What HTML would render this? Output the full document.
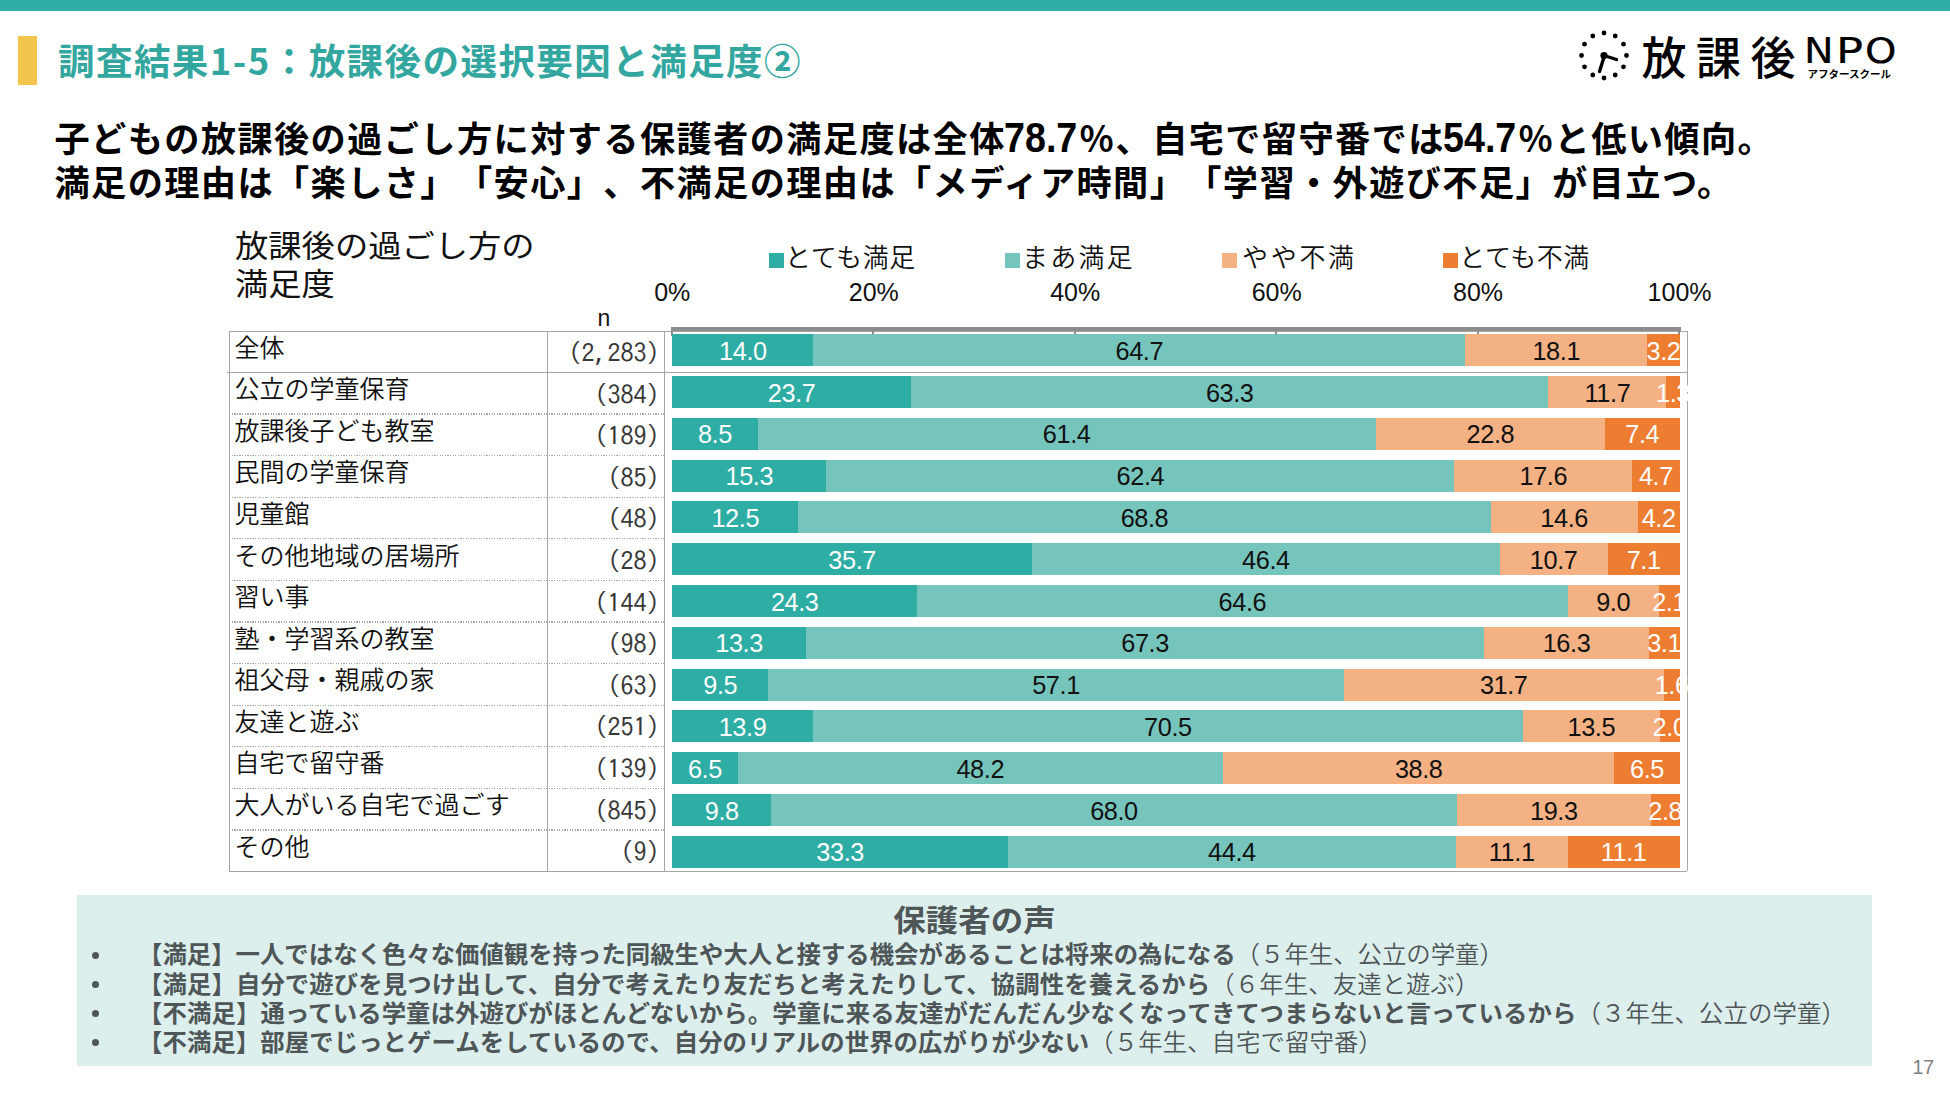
<!DOCTYPE html><html lang="ja"><head><meta charset="utf-8"><title>調査結果1-5</title><style>
*{margin:0;padding:0;box-sizing:border-box;text-spacing-trim:space-all}
html,body{width:1950px;height:1097px;overflow:hidden;background:#fff}
body{position:relative;font-family:"Liberation Sans","Noto Sans CJK JP",sans-serif;color:#000}
.a{position:absolute;white-space:nowrap}
.jp{font-family:"Noto Sans CJK JP",sans-serif}
.b{font-weight:700}
.lbl{font-family:"Noto Sans CJK JP",sans-serif;font-weight:350;font-size:25px;line-height:25px;color:#111}
.n{font-family:"IPAGothic","Noto Sans CJK JP",monospace;font-size:26px;line-height:25px;color:#383838;text-align:right}
.dl{font-family:"Liberation Sans",sans-serif;font-size:25.3px;letter-spacing:-0.4px;line-height:31px;text-align:center}
.seg{position:absolute;height:32.0px}
.voice{font-family:"Noto Sans CJK JP",sans-serif;font-size:24.4px;line-height:29.1px;color:#4e5658}
.voice b{font-weight:700}
.voice span{font-weight:350}
</style></head><body>
<div class="a" style="left:0;top:0;width:1950px;height:10.5px;background:#30ada5"></div>
<div class="a" style="left:18px;top:36px;width:19px;height:49px;background:#f2c54c"></div>
<div class="a jp b" style="left:58px;top:38.4px;font-size:36.5px;line-height:44px;letter-spacing:1.45px;color:#33a79f">調査結果1-5：放課後の選択要因と満足度②</div>
<div class="a jp b" style="left:54.5px;top:115px;font-size:35.2px;line-height:44px;letter-spacing:1.4px;color:#000">子どもの放課後の過ごし方に対する保護者の満足度は全体</div>
<div class="a" style="left:1004.0px;top:115.0px;font-family:Liberation Sans,sans-serif;font-weight:700;font-size:43px;line-height:44px;color:#000;transform:scaleX(0.876);transform-origin:0 0">78.7</div>
<div class="a jp b" style="left:1079.0px;top:115px;font-size:35.2px;line-height:44px;letter-spacing:1.4px;color:#000">％、自宅で留守番では</div>
<div class="a" style="left:1443.2px;top:115.0px;font-family:Liberation Sans,sans-serif;font-weight:700;font-size:43px;line-height:44px;color:#000;transform:scaleX(0.876);transform-origin:0 0">54.7</div>
<div class="a jp b" style="left:1518.0px;top:115px;font-size:35.2px;line-height:44px;letter-spacing:1.4px;color:#000">％と低い傾向。</div>
<div class="a jp b" style="left:54.5px;top:159px;font-size:35.2px;line-height:44px;letter-spacing:1.4px;color:#000">満足の理由は「楽しさ」「安心」、不満足の理由は「メディア時間」「学習・外遊び不足」が目立つ。</div>
<svg class="a" style="left:1570px;top:25px" width="70" height="65" viewBox="0 0 70 65"><g fill="#000"><circle cx="34.0" cy="8.0" r="2.4"/><circle cx="45.2" cy="11.0" r="2.4"/><circle cx="53.5" cy="19.2" r="2.4"/><circle cx="56.5" cy="30.5" r="2.4"/><circle cx="53.5" cy="41.8" r="2.4"/><circle cx="45.2" cy="50.0" r="2.4"/><circle cx="34.0" cy="53.0" r="2.4"/><circle cx="22.8" cy="50.0" r="2.4"/><circle cx="14.5" cy="41.8" r="2.4"/><circle cx="11.5" cy="30.5" r="2.4"/><circle cx="14.5" cy="19.2" r="2.4"/><circle cx="22.8" cy="11.0" r="2.4"/><circle cx="34.0" cy="30.5" r="3.6"/></g><path d="M34.0 30.5L46.5 34.5M34.5 30.5L29.5 46.5" stroke="#000" stroke-width="3.4" stroke-linecap="round" fill="none"/></svg>
<div class="a jp" style="left:1641.5px;top:28px;font-size:45px;line-height:56px;letter-spacing:9.5px;font-weight:500;color:#000">放課後</div>
<div class="a" style="left:1804.0px;top:30.5px;font-family:DejaVu Sans,sans-serif;font-size:36px;line-height:40px;color:#000;-webkit-text-stroke:0.2px #000;transform:scaleX(1.10);transform-origin:0 0">N</div>
<div class="a" style="left:1835.5px;top:30.5px;font-family:DejaVu Sans,sans-serif;font-size:36px;line-height:40px;color:#000;-webkit-text-stroke:0.2px #000;transform:scaleX(1.25);transform-origin:0 0">P</div>
<div class="a" style="left:1864.6px;top:30.5px;font-family:DejaVu Sans,sans-serif;font-size:36px;line-height:40px;color:#000;-webkit-text-stroke:0.2px #000;transform:scaleX(1.11);transform-origin:0 0">O</div>
<div class="a jp b" style="left:1807.5px;top:66.5px;font-size:10.5px;line-height:14px;color:#000">アフタースクール</div>
<div class="a jp" style="left:235px;top:223.5px;font-size:33.3px;line-height:39.5px;color:#111;transform:scaleY(0.93);transform-origin:0 21px">放課後の過ごし方の</div>
<div class="a jp" style="left:235px;top:262px;font-size:33.3px;line-height:39.5px;color:#111;transform:scaleY(0.93);transform-origin:0 21px">満足度</div>
<div class="a" style="left:768.5px;top:253px;width:15px;height:14.5px;background:#2dada4"></div>
<div class="a jp" style="left:785px;top:240px;font-size:26px;line-height:32px;font-weight:350;color:#111;letter-spacing:0.6px">とても満足</div>
<div class="a" style="left:1004.5px;top:253px;width:15px;height:14.5px;background:#76c5bd"></div>
<div class="a jp" style="left:1022px;top:240px;font-size:26px;line-height:32px;font-weight:350;color:#111;letter-spacing:2.2px">まあ満足</div>
<div class="a" style="left:1221.5px;top:253px;width:15px;height:14.5px;background:#f3b184"></div>
<div class="a jp" style="left:1242px;top:240px;font-size:26px;line-height:32px;font-weight:350;color:#111;letter-spacing:2.7px">やや不満</div>
<div class="a" style="left:1442.5px;top:253px;width:15px;height:14.5px;background:#ed7d31"></div>
<div class="a jp" style="left:1459.3px;top:240px;font-size:26px;line-height:32px;font-weight:350;color:#111;letter-spacing:0.5px">とても不満</div>
<div class="a" style="left:672.3px;top:278px;width:100px;margin-left:-50px;text-align:center;font-size:25px;line-height:28px;color:#111">0%</div>
<div class="a" style="left:873.8px;top:278px;width:100px;margin-left:-50px;text-align:center;font-size:25px;line-height:28px;color:#111">20%</div>
<div class="a" style="left:1075.2px;top:278px;width:100px;margin-left:-50px;text-align:center;font-size:25px;line-height:28px;color:#111">40%</div>
<div class="a" style="left:1276.7px;top:278px;width:100px;margin-left:-50px;text-align:center;font-size:25px;line-height:28px;color:#111">60%</div>
<div class="a" style="left:1478.1px;top:278px;width:100px;margin-left:-50px;text-align:center;font-size:25px;line-height:28px;color:#111">80%</div>
<div class="a" style="left:1679.6px;top:278px;width:100px;margin-left:-50px;text-align:center;font-size:25px;line-height:28px;color:#111">100%</div>
<div class="a" style="left:597.5px;top:305.5px;font-size:23px;line-height:24px;color:#111">n</div>
<div class="a" style="left:228.9px;top:330.5px;width:1458.1px;height:1.3px;background:#a6a6a6"></div>
<div class="a" style="left:228.9px;top:870.7px;width:1458.1px;height:1.3px;background:#a6a6a6"></div>
<div class="a" style="left:228.9px;top:330.5px;width:1.3px;height:540.7px;background:#a6a6a6"></div>
<div class="a" style="left:546.9px;top:330.5px;width:1.3px;height:540.7px;background:#a6a6a6"></div>
<div class="a" style="left:663.8px;top:330.5px;width:1.3px;height:540.7px;background:#a6a6a6"></div>
<div class="a" style="left:1687.0px;top:330.5px;width:1.3px;height:540.7px;background:#a6a6a6"></div>
<div class="a" style="left:226.9px;top:372.1px;width:1460.1px;height:1.3px;background:#a6a6a6"></div>
<div class="a" style="left:228.9px;top:413.4px;width:434.9px;height:1.3px;background:repeating-linear-gradient(90deg,#a8a8a8 0 1.3px,transparent 1.3px 2.6px)"></div>
<div class="a" style="left:228.9px;top:455.0px;width:434.9px;height:1.3px;background:repeating-linear-gradient(90deg,#a8a8a8 0 1.3px,transparent 1.3px 2.6px)"></div>
<div class="a" style="left:228.9px;top:496.6px;width:434.9px;height:1.3px;background:repeating-linear-gradient(90deg,#a8a8a8 0 1.3px,transparent 1.3px 2.6px)"></div>
<div class="a" style="left:228.9px;top:538.2px;width:434.9px;height:1.3px;background:repeating-linear-gradient(90deg,#a8a8a8 0 1.3px,transparent 1.3px 2.6px)"></div>
<div class="a" style="left:228.9px;top:579.8px;width:434.9px;height:1.3px;background:repeating-linear-gradient(90deg,#a8a8a8 0 1.3px,transparent 1.3px 2.6px)"></div>
<div class="a" style="left:228.9px;top:621.3px;width:434.9px;height:1.3px;background:repeating-linear-gradient(90deg,#a8a8a8 0 1.3px,transparent 1.3px 2.6px)"></div>
<div class="a" style="left:228.9px;top:662.9px;width:434.9px;height:1.3px;background:repeating-linear-gradient(90deg,#a8a8a8 0 1.3px,transparent 1.3px 2.6px)"></div>
<div class="a" style="left:228.9px;top:704.5px;width:434.9px;height:1.3px;background:repeating-linear-gradient(90deg,#a8a8a8 0 1.3px,transparent 1.3px 2.6px)"></div>
<div class="a" style="left:228.9px;top:746.1px;width:434.9px;height:1.3px;background:repeating-linear-gradient(90deg,#a8a8a8 0 1.3px,transparent 1.3px 2.6px)"></div>
<div class="a" style="left:228.9px;top:787.7px;width:434.9px;height:1.3px;background:repeating-linear-gradient(90deg,#a8a8a8 0 1.3px,transparent 1.3px 2.6px)"></div>
<div class="a" style="left:228.9px;top:829.3px;width:434.9px;height:1.3px;background:repeating-linear-gradient(90deg,#a8a8a8 0 1.3px,transparent 1.3px 2.6px)"></div>
<div class="a lbl" style="left:234.5px;top:333.5px">全体</div>
<div class="a n" style="left:561.5px;width:98px;top:340.0px">(2,283)</div>
<div class="a lbl" style="left:234.5px;top:375.1px">公立の学童保育</div>
<div class="a n" style="left:561.5px;width:98px;top:381.6px">(384)</div>
<div class="a lbl" style="left:234.5px;top:416.7px">放課後子ども教室</div>
<div class="a n" style="left:561.5px;width:98px;top:423.2px">(189)</div>
<div class="a lbl" style="left:234.5px;top:458.3px">民間の学童保育</div>
<div class="a n" style="left:561.5px;width:98px;top:464.8px">(85)</div>
<div class="a lbl" style="left:234.5px;top:499.9px">児童館</div>
<div class="a n" style="left:561.5px;width:98px;top:506.4px">(48)</div>
<div class="a lbl" style="left:234.5px;top:541.5px">その他地域の居場所</div>
<div class="a n" style="left:561.5px;width:98px;top:548.0px">(28)</div>
<div class="a lbl" style="left:234.5px;top:583.1px">習い事</div>
<div class="a n" style="left:561.5px;width:98px;top:589.6px">(144)</div>
<div class="a lbl" style="left:234.5px;top:624.6px">塾・学習系の教室</div>
<div class="a n" style="left:561.5px;width:98px;top:631.1px">(98)</div>
<div class="a lbl" style="left:234.5px;top:666.2px">祖父母・親戚の家</div>
<div class="a n" style="left:561.5px;width:98px;top:672.7px">(63)</div>
<div class="a lbl" style="left:234.5px;top:707.8px">友達と遊ぶ</div>
<div class="a n" style="left:561.5px;width:98px;top:714.3px">(251)</div>
<div class="a lbl" style="left:234.5px;top:749.4px">自宅で留守番</div>
<div class="a n" style="left:561.5px;width:98px;top:755.9px">(139)</div>
<div class="a lbl" style="left:234.5px;top:791.0px">大人がいる自宅で過ごす</div>
<div class="a n" style="left:561.5px;width:98px;top:797.5px">(845)</div>
<div class="a lbl" style="left:234.5px;top:832.6px">その他</div>
<div class="a n" style="left:561.5px;width:98px;top:839.1px">(9)</div>
<div class="a" style="left:670.5px;top:327.4px;width:1010.6px;height:3.3px;background:#8c8c8c"></div>
<div class="a" style="left:670.8px;top:327.3px;width:2px;height:9px;background:#8c8c8c"></div>
<div class="a" style="left:872.3px;top:327.3px;width:2px;height:9px;background:#8c8c8c"></div>
<div class="a" style="left:1073.7px;top:327.3px;width:2px;height:9px;background:#8c8c8c"></div>
<div class="a" style="left:1275.2px;top:327.3px;width:2px;height:9px;background:#8c8c8c"></div>
<div class="a" style="left:1476.6px;top:327.3px;width:2px;height:9px;background:#8c8c8c"></div>
<div class="a" style="left:1678.1px;top:327.3px;width:2px;height:9px;background:#8c8c8c"></div>
<div class="seg" style="left:672px;top:334.10px;width:141px;background:#2dada4"></div>
<div class="seg" style="left:813px;top:334.10px;width:652px;background:#76c5bd"></div>
<div class="seg" style="left:1465px;top:334.10px;width:182px;background:#f3b184"></div>
<div class="seg" style="left:1647px;top:334.10px;width:33px;background:#ed7d31"></div>
<div class="a dl" style="left:742.89px;top:335.70px;width:80px;margin-left:-40px;color:#fff">14.0</div>
<div class="a dl" style="left:1139.33px;top:335.70px;width:80px;margin-left:-40px;color:#111">64.7</div>
<div class="a dl" style="left:1556.28px;top:335.70px;width:80px;margin-left:-40px;color:#111">18.1</div>
<div class="a dl" style="left:1663.50px;top:335.70px;width:80px;margin-left:-40px;color:#fff">3.2</div>
<div class="seg" style="left:672px;top:375.91px;width:239px;background:#2dada4"></div>
<div class="seg" style="left:911px;top:375.91px;width:637px;background:#76c5bd"></div>
<div class="seg" style="left:1548px;top:375.91px;width:118px;background:#f3b184"></div>
<div class="seg" style="left:1666px;top:375.91px;width:14px;background:#ed7d31"></div>
<div class="a dl" style="left:791.65px;top:377.51px;width:80px;margin-left:-40px;color:#fff">23.7</div>
<div class="a dl" style="left:1229.73px;top:377.51px;width:80px;margin-left:-40px;color:#111">63.3</div>
<div class="a dl" style="left:1607.46px;top:377.51px;width:80px;margin-left:-40px;color:#111">11.7</div>
<div class="a dl" style="left:1673.04px;top:377.51px;width:80px;margin-left:-40px;color:#fff">1.3</div>
<div class="seg" style="left:672px;top:417.72px;width:86px;background:#2dada4"></div>
<div class="seg" style="left:758px;top:417.72px;width:618px;background:#76c5bd"></div>
<div class="seg" style="left:1376px;top:417.72px;width:229px;background:#f3b184"></div>
<div class="seg" style="left:1605px;top:417.72px;width:75px;background:#ed7d31"></div>
<div class="a dl" style="left:714.94px;top:419.32px;width:80px;margin-left:-40px;color:#fff">8.5</div>
<div class="a dl" style="left:1066.69px;top:419.32px;width:80px;margin-left:-40px;color:#111">61.4</div>
<div class="a dl" style="left:1490.40px;top:419.32px;width:80px;margin-left:-40px;color:#111">22.8</div>
<div class="a dl" style="left:1642.29px;top:419.32px;width:80px;margin-left:-40px;color:#fff">7.4</div>
<div class="seg" style="left:672px;top:459.53px;width:154px;background:#2dada4"></div>
<div class="seg" style="left:826px;top:459.53px;width:628px;background:#76c5bd"></div>
<div class="seg" style="left:1454px;top:459.53px;width:178px;background:#f3b184"></div>
<div class="seg" style="left:1632px;top:459.53px;width:48px;background:#ed7d31"></div>
<div class="a dl" style="left:749.33px;top:461.13px;width:80px;margin-left:-40px;color:#fff">15.3</div>
<div class="a dl" style="left:1140.40px;top:461.13px;width:80px;margin-left:-40px;color:#111">62.4</div>
<div class="a dl" style="left:1543.32px;top:461.13px;width:80px;margin-left:-40px;color:#111">17.6</div>
<div class="a dl" style="left:1655.90px;top:461.13px;width:80px;margin-left:-40px;color:#fff">4.7</div>
<div class="seg" style="left:672px;top:501.34px;width:126px;background:#2dada4"></div>
<div class="seg" style="left:798px;top:501.34px;width:693px;background:#76c5bd"></div>
<div class="seg" style="left:1491px;top:501.34px;width:147px;background:#f3b184"></div>
<div class="seg" style="left:1638px;top:501.34px;width:42px;background:#ed7d31"></div>
<div class="a dl" style="left:735.26px;top:502.94px;width:80px;margin-left:-40px;color:#fff">12.5</div>
<div class="a dl" style="left:1144.47px;top:502.94px;width:80px;margin-left:-40px;color:#111">68.8</div>
<div class="a dl" style="left:1564.18px;top:502.94px;width:80px;margin-left:-40px;color:#111">14.6</div>
<div class="a dl" style="left:1658.61px;top:502.94px;width:80px;margin-left:-40px;color:#fff">4.2</div>
<div class="seg" style="left:672px;top:543.15px;width:360px;background:#2dada4"></div>
<div class="seg" style="left:1032px;top:543.15px;width:468px;background:#76c5bd"></div>
<div class="seg" style="left:1500px;top:543.15px;width:108px;background:#f3b184"></div>
<div class="seg" style="left:1608px;top:543.15px;width:72px;background:#ed7d31"></div>
<div class="a dl" style="left:852.17px;top:544.75px;width:80px;margin-left:-40px;color:#fff">35.7</div>
<div class="a dl" style="left:1265.89px;top:544.75px;width:80px;margin-left:-40px;color:#111">46.4</div>
<div class="a dl" style="left:1553.69px;top:544.75px;width:80px;margin-left:-40px;color:#111">10.7</div>
<div class="a dl" style="left:1643.62px;top:544.75px;width:80px;margin-left:-40px;color:#fff">7.1</div>
<div class="seg" style="left:672px;top:584.96px;width:245px;background:#2dada4"></div>
<div class="seg" style="left:917px;top:584.96px;width:651px;background:#76c5bd"></div>
<div class="seg" style="left:1568px;top:584.96px;width:91px;background:#f3b184"></div>
<div class="seg" style="left:1659px;top:584.96px;width:21px;background:#ed7d31"></div>
<div class="a dl" style="left:794.71px;top:586.56px;width:80px;margin-left:-40px;color:#fff">24.3</div>
<div class="a dl" style="left:1242.40px;top:586.56px;width:80px;margin-left:-40px;color:#111">64.6</div>
<div class="a dl" style="left:1613.15px;top:586.56px;width:80px;margin-left:-40px;color:#111">9.0</div>
<div class="a dl" style="left:1669.11px;top:586.56px;width:80px;margin-left:-40px;color:#fff">2.1</div>
<div class="seg" style="left:672px;top:626.77px;width:134px;background:#2dada4"></div>
<div class="seg" style="left:806px;top:626.77px;width:678px;background:#76c5bd"></div>
<div class="seg" style="left:1484px;top:626.77px;width:165px;background:#f3b184"></div>
<div class="seg" style="left:1649px;top:626.77px;width:31px;background:#ed7d31"></div>
<div class="a dl" style="left:739.11px;top:628.37px;width:80px;margin-left:-40px;color:#fff">13.3</div>
<div class="a dl" style="left:1145.11px;top:628.37px;width:80px;margin-left:-40px;color:#111">67.3</div>
<div class="a dl" style="left:1566.54px;top:628.37px;width:80px;margin-left:-40px;color:#111">16.3</div>
<div class="a dl" style="left:1664.18px;top:628.37px;width:80px;margin-left:-40px;color:#fff">3.1</div>
<div class="seg" style="left:672px;top:668.58px;width:96px;background:#2dada4"></div>
<div class="seg" style="left:768px;top:668.58px;width:576px;background:#76c5bd"></div>
<div class="seg" style="left:1344px;top:668.58px;width:320px;background:#f3b184"></div>
<div class="seg" style="left:1664px;top:668.58px;width:16px;background:#ed7d31"></div>
<div class="a dl" style="left:720.27px;top:670.18px;width:80px;margin-left:-40px;color:#fff">9.5</div>
<div class="a dl" style="left:1056.03px;top:670.18px;width:80px;margin-left:-40px;color:#111">57.1</div>
<div class="a dl" style="left:1503.72px;top:670.18px;width:80px;margin-left:-40px;color:#111">31.7</div>
<div class="a dl" style="left:1671.61px;top:670.18px;width:80px;margin-left:-40px;color:#fff">1.6</div>
<div class="seg" style="left:672px;top:710.39px;width:141px;background:#2dada4"></div>
<div class="seg" style="left:813px;top:710.39px;width:710px;background:#76c5bd"></div>
<div class="seg" style="left:1523px;top:710.39px;width:137px;background:#f3b184"></div>
<div class="seg" style="left:1660px;top:710.39px;width:20px;background:#ed7d31"></div>
<div class="a dl" style="left:742.53px;top:711.99px;width:80px;margin-left:-40px;color:#fff">13.9</div>
<div class="a dl" style="left:1167.92px;top:711.99px;width:80px;margin-left:-40px;color:#111">70.5</div>
<div class="a dl" style="left:1591.31px;top:711.99px;width:80px;margin-left:-40px;color:#111">13.5</div>
<div class="a dl" style="left:1669.57px;top:711.99px;width:80px;margin-left:-40px;color:#fff">2.0</div>
<div class="seg" style="left:672px;top:752.20px;width:66px;background:#2dada4"></div>
<div class="seg" style="left:738px;top:752.20px;width:485px;background:#76c5bd"></div>
<div class="seg" style="left:1223px;top:752.20px;width:391px;background:#f3b184"></div>
<div class="seg" style="left:1614px;top:752.20px;width:66px;background:#ed7d31"></div>
<div class="a dl" style="left:704.91px;top:753.80px;width:80px;margin-left:-40px;color:#fff">6.5</div>
<div class="a dl" style="left:980.29px;top:753.80px;width:80px;margin-left:-40px;color:#111">48.2</div>
<div class="a dl" style="left:1418.72px;top:753.80px;width:80px;margin-left:-40px;color:#111">38.8</div>
<div class="a dl" style="left:1646.99px;top:753.80px;width:80px;margin-left:-40px;color:#fff">6.5</div>
<div class="seg" style="left:672px;top:794.01px;width:99px;background:#2dada4"></div>
<div class="seg" style="left:771px;top:794.01px;width:686px;background:#76c5bd"></div>
<div class="seg" style="left:1457px;top:794.01px;width:194px;background:#f3b184"></div>
<div class="seg" style="left:1651px;top:794.01px;width:29px;background:#ed7d31"></div>
<div class="a dl" style="left:721.77px;top:795.61px;width:80px;margin-left:-40px;color:#fff">9.8</div>
<div class="a dl" style="left:1113.96px;top:795.61px;width:80px;margin-left:-40px;color:#111">68.0</div>
<div class="a dl" style="left:1553.84px;top:795.61px;width:80px;margin-left:-40px;color:#111">19.3</div>
<div class="a dl" style="left:1665.30px;top:795.61px;width:80px;margin-left:-40px;color:#fff">2.8</div>
<div class="seg" style="left:672px;top:835.82px;width:336px;background:#2dada4"></div>
<div class="seg" style="left:1008px;top:835.82px;width:448px;background:#76c5bd"></div>
<div class="seg" style="left:1456px;top:835.82px;width:112px;background:#f3b184"></div>
<div class="seg" style="left:1568px;top:835.82px;width:112px;background:#ed7d31"></div>
<div class="a dl" style="left:840.18px;top:837.42px;width:80px;margin-left:-40px;color:#fff">33.3</div>
<div class="a dl" style="left:1231.91px;top:837.42px;width:80px;margin-left:-40px;color:#111">44.4</div>
<div class="a dl" style="left:1511.72px;top:837.42px;width:80px;margin-left:-40px;color:#111">11.1</div>
<div class="a dl" style="left:1623.64px;top:837.42px;width:80px;margin-left:-40px;color:#fff">11.1</div>
<div class="a" style="left:77px;top:895px;width:1795px;height:171px;background:#ddefed"></div>
<div class="a jp b" style="left:77px;width:1795px;text-align:center;top:898px;font-size:32.5px;line-height:40px;color:#4e5658;transform:scaleY(0.92);transform-origin:50% 21.8px">保護者の声</div>
<div class="a" style="left:92px;top:941.0px;width:7px;height:7px;border-radius:50%;background:#4e5658;margin-top:11px"></div>
<div class="a voice" style="left:138px;top:938.4px;letter-spacing:0.000px"><b>【満足】一人ではなく色々な価値観を持った同級生や大人と接する機会があることは将来の為になる</b><span>（５年生、公立の学童）</span></div>
<div class="a" style="left:92px;top:970.1px;width:7px;height:7px;border-radius:50%;background:#4e5658;margin-top:11px"></div>
<div class="a voice" style="left:138px;top:967.5px;letter-spacing:0.085px"><b>【満足】自分で遊びを見つけ出して、自分で考えたり友だちと考えたりして、協調性を養えるから</b><span>（６年生、友達と遊ぶ）</span></div>
<div class="a" style="left:92px;top:999.2px;width:7px;height:7px;border-radius:50%;background:#4e5658;margin-top:11px"></div>
<div class="a voice" style="left:138px;top:996.6px;letter-spacing:0.095px"><b>【不満足】通っている学童は外遊びがほとんどないから。学童に来る友達がだんだん少なくなってきてつまらないと言っているから</b><span>（３年生、公立の学童）</span></div>
<div class="a" style="left:92px;top:1028.3px;width:7px;height:7px;border-radius:50%;background:#4e5658;margin-top:11px"></div>
<div class="a voice" style="left:138px;top:1025.7px;letter-spacing:0.070px"><b>【不満足】部屋でじっとゲームをしているので、自分のリアルの世界の広がりが少ない</b><span>（５年生、自宅で留守番）</span></div>
<div class="a" style="left:1912.5px;top:1056px;font-size:19.5px;line-height:22px;color:#808080">17</div>
</body></html>
